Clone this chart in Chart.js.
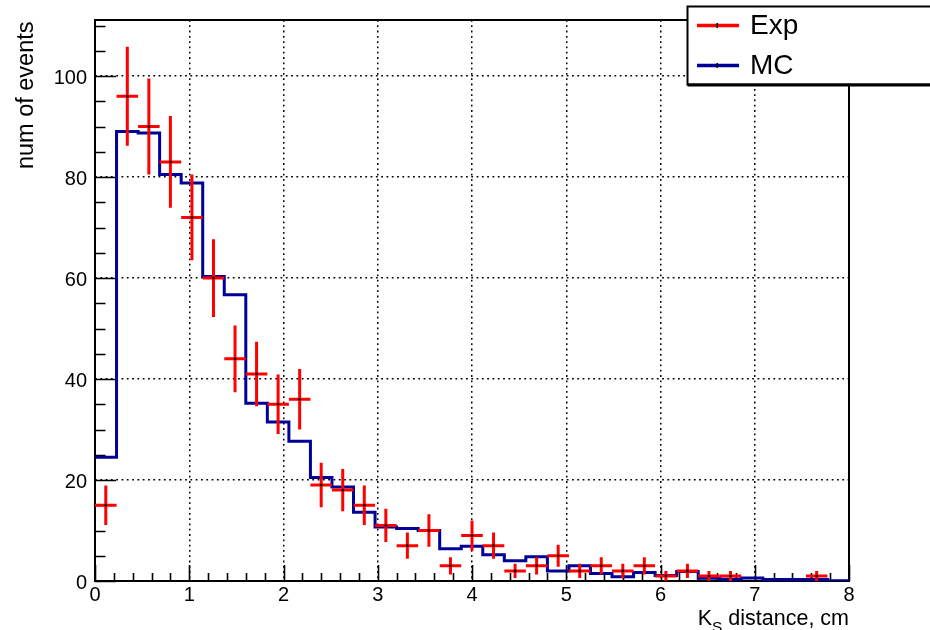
<!DOCTYPE html>
<html>
<head>
<meta charset="utf-8">
<script src="https://cdn.jsdelivr.net/npm/chart.js@4.4.1/dist/chart.umd.min.js"></script>
<style>
  html, body { margin: 0; padding: 0; background: #ffffff; }
  canvas { display: block; }
</style>
</head>
<body>
<canvas id="chart" width="930" height="630"></canvas>
<script>
// Histogram binning: 35 equal bins between 0 and 8 cm
const X_RANGE = [0, 8];
const Y_RANGE = [0, 111.1];
const N_BINS = 35;

// Axis tick labels
const xTickLabels = ['0', '1', '2', '3', '4', '5', '6', '7', '8'];
const yTickLabels = ['0', '20', '40', '60', '80', '100'];

// Measured event counts per bin and their statistical errors
const expCounts = [15, 96, 90, 83, 72, 60, 44, 41, 35, 36, 19, 18, 15, 11, 7, 10, 3, 9, 7, 2,
                   3, 5, 2, 3, 2, 3, 1, 2, 1, 1, 0, 0, 0, 1, 0];
const expErrors = [3.9, 9.8, 9.5, 9.1, 8.5, 7.7, 6.6, 6.4, 5.9, 6.0, 4.4, 4.2, 3.9, 3.3, 2.6, 3.2, 1.7, 3.0, 2.6, 1.4,
                   1.7, 2.2, 1.4, 1.7, 1.4, 1.7, 1.0, 1.4, 1.0, 1.0, 0, 0, 0, 1.0, 0];

// Simulated (normalised) counts per bin
const mcCounts = [24.5, 89.0, 88.7, 80.5, 78.8, 60.3, 56.7, 35.2, 31.5, 27.7, 20.5, 18.6, 13.6, 10.7, 10.4, 10.0, 6.4, 6.9, 5.2, 4.0,
                  4.8, 2.0, 3.0, 1.5, 0.85, 1.7, 1.1, 1.9, 0.55, 0.35, 0.6, 0.3, 0.3, 0.3, 0.05];

const binWidth = (X_RANGE[1] - X_RANGE[0]) / N_BINS;
const binLow = i => X_RANGE[0] + i * binWidth;
const binCenter = i => binLow(i) + binWidth / 2;

// Data points at bin centres (empty bins are not drawn)
const expPoints = expCounts
  .map((v, i) => ({ x: binCenter(i), y: v, err: expErrors[i] }))
  .filter(p => p.y > 0);

// Step outline: one point per lower bin edge, closed at the upper range edge
const mcPoints = mcCounts.map((v, i) => ({ x: binLow(i), y: v }));
mcPoints.push({ x: X_RANGE[1], y: mcCounts[mcCounts.length - 1] });

const FONT = '"Liberation Sans", Arial, sans-serif';
const RED = '#ff0000';
const BLUE = '#000099';

// Error bars: full-bin horizontal bar plus vertical +/- error
const errorBars = {
  id: 'errorBars',
  beforeDatasetDraw(chart, args) {
    if (args.index !== 0) return;
    const { ctx, scales: { x, y } } = chart;
    const ds = chart.data.datasets[0];
    ctx.save();
    ctx.strokeStyle = ds.barColor;
    ctx.lineWidth = 3;
    ctx.lineCap = 'butt';
    ds.data.forEach(p => {
      const xl = x.getPixelForValue(p.x - binWidth / 2);
      const xr = x.getPixelForValue(p.x + binWidth / 2);
      const xc = x.getPixelForValue(p.x);
      const yc = y.getPixelForValue(p.y);
      const yt = y.getPixelForValue(p.y + p.err);
      const yb = y.getPixelForValue(Math.max(p.y - p.err, 0));
      ctx.beginPath();
      ctx.moveTo(xl, yc); ctx.lineTo(xr, yc);
      ctx.moveTo(xc, yt); ctx.lineTo(xc, yb);
      ctx.stroke();
    });
    ctx.restore();
  }
};

// Frame around the plot area with ticks pointing inwards
const frameTicks = {
  id: 'frameTicks',
  beforeDatasetsDraw(chart) {
    const { ctx, chartArea: a, scales: { x, y } } = chart;
    ctx.save();
    ctx.strokeStyle = '#000';
    ctx.lineWidth = 2;
    ctx.strokeRect(a.left, a.top, a.right - a.left, a.bottom - a.top);

    const drawTicks = (scale, majorStep, div, majorLen, minorLen, horizontal) => {
      const step = majorStep / div;
      const n = Math.floor((scale.max - scale.min) / step + 1e-6);
      ctx.beginPath();
      for (let k = 0; k <= n; k++) {
        const v = scale.min + k * step;
        const len = (k % div === 0) ? majorLen : minorLen;
        const p = Math.round(scale.getPixelForValue(v)) + 0.5;
        if (horizontal) {
          ctx.moveTo(p, a.bottom); ctx.lineTo(p, a.bottom - len);
        } else {
          ctx.moveTo(a.left, p); ctx.lineTo(a.left + len, p);
        }
      }
      ctx.stroke();
    };
    ctx.lineWidth = 1.6;
    drawTicks(x, 1, 5, 16, 8, true);
    drawTicks(y, 20, 4, 21, 10.5, false);
    ctx.restore();
  }
};

// Axis titles and legend box
const annotations = {
  id: 'annotations',
  afterDraw(chart) {
    const { ctx, chartArea: a } = chart;
    ctx.save();
    ctx.fillStyle = '#000';

    // y title, rotated, aligned to the top of the frame
    ctx.save();
    ctx.translate(33, a.top + 1.5);
    ctx.rotate(-Math.PI / 2);
    ctx.font = '23.5px ' + FONT;
    ctx.textAlign = 'right';
    ctx.textBaseline = 'alphabetic';
    ctx.fillText('num of events', 0, 0);
    ctx.restore();

    // x title with subscript, aligned to the right end of the axis
    const base = 625;
    ctx.textBaseline = 'alphabetic';
    ctx.textAlign = 'left';
    const mainFont = '21.5px ' + FONT;
    const subFont = '15.5px ' + FONT;
    ctx.font = mainFont;
    const wK = ctx.measureText('K').width;
    const wRest = ctx.measureText(' distance, cm').width;
    ctx.font = subFont;
    const wS = ctx.measureText('S').width;
    let xs = a.right - (wK + wS + wRest);
    ctx.font = mainFont;
    ctx.fillText('K', xs, base);
    xs += wK;
    ctx.font = subFont;
    ctx.fillText('S', xs, base + 7);
    xs += wS;
    ctx.font = mainFont;
    ctx.fillText(' distance, cm', xs, base);

    // legend
    const lx = 687.5, ly = 6.5, lw = 260, lh = 78;
    ctx.fillStyle = '#fff';
    ctx.fillRect(lx, ly, lw, lh);
    ctx.strokeStyle = '#000';
    ctx.lineWidth = 2;
    ctx.strokeRect(lx, ly, lw, lh);
    ctx.lineWidth = 3;
    ctx.beginPath();
    ctx.moveTo(lx, ly + lh + 0.5); ctx.lineTo(lx + lw, ly + lh + 0.5);
    ctx.stroke();

    const entries = chart.data.datasets.map(ds => ({ label: ds.label, color: ds.legendColor }));
    const rows = [25.5, 65.5];
    entries.forEach((e, i) => {
      const yy = rows[i];
      ctx.strokeStyle = e.color;
      ctx.lineWidth = 3.5;
      ctx.beginPath();
      ctx.moveTo(697, yy); ctx.lineTo(739, yy);
      ctx.stroke();
      ctx.fillStyle = '#000';
      ctx.fillRect(716.5, yy - 2.5, 1.5, 5);
      ctx.font = '28px ' + FONT;
      ctx.textAlign = 'left';
      ctx.textBaseline = 'middle';
      ctx.fillText(e.label, 750, yy + 0.5);
    });
    ctx.restore();
  }
};

const tickFont = { family: FONT, size: 20 };

new Chart(document.getElementById('chart'), {
  data: {
    datasets: [
      {
        type: 'scatter',
        label: 'Exp',
        data: expPoints,
        barColor: RED,
        legendColor: RED,
        pointRadius: 1.3,
        pointHoverRadius: 1.3,
        pointBackgroundColor: '#000',
        pointBorderWidth: 0,
        showLine: false
      },
      {
        type: 'line',
        label: 'MC',
        data: mcPoints,
        legendColor: BLUE,
        stepped: 'before',
        borderColor: BLUE,
        borderWidth: 3,
        pointRadius: 0,
        fill: false,
        tension: 0
      }
    ]
  },
  options: {
    responsive: false,
    devicePixelRatio: 1,
    animation: false,
    events: [],
    layout: { padding: { top: 20, right: 81, left: 0, bottom: 0 } },
    plugins: { legend: { display: false }, tooltip: { enabled: false } },
    scales: {
      x: {
        type: 'linear',
        min: X_RANGE[0],
        max: X_RANGE[1],
        afterFit(scale) { scale.height = 49; },
        afterBuildTicks(scale) { scale.ticks = xTickLabels.map(t => ({ value: Number(t) })); },
        grid: { color: '#000', lineWidth: 1.5, drawTicks: false },
        border: { display: false, dash: [1.8, 3.5] },
        ticks: { font: tickFont, color: '#000', padding: 2, maxRotation: 0, autoSkip: false }
      },
      y: {
        type: 'linear',
        min: Y_RANGE[0],
        max: Y_RANGE[1],
        afterFit(scale) { scale.width = 95; },
        afterBuildTicks(scale) { scale.ticks = yTickLabels.map(t => ({ value: Number(t) })); },
        grid: { color: '#000', lineWidth: 1.5, drawTicks: false },
        border: { display: false, dash: [1.8, 3.5] },
        ticks: { font: tickFont, color: '#000', padding: 8, labelOffset: 2, autoSkip: false }
      }
    }
  },
  plugins: [errorBars, frameTicks, annotations]
});
</script>
</body>
</html>
